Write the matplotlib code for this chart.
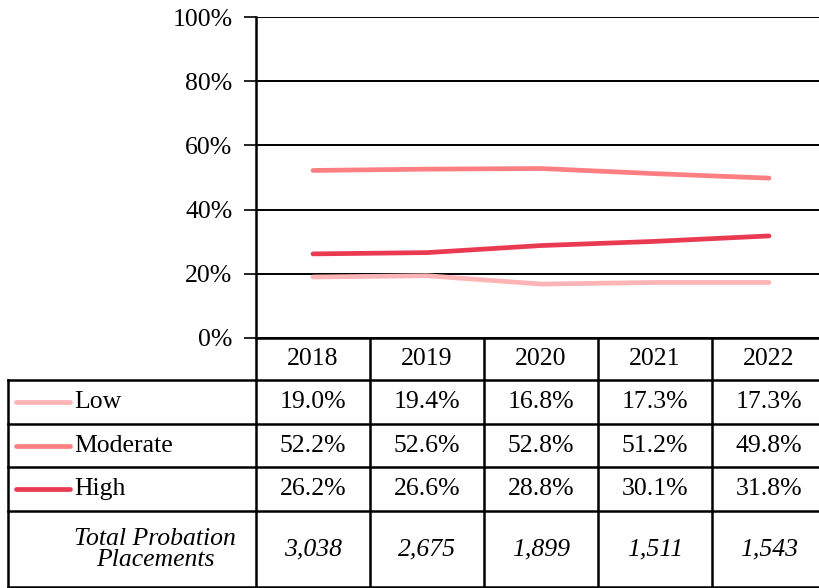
import matplotlib
matplotlib.use("Agg")
import matplotlib.pyplot as plt
from matplotlib.lines import Line2D

plt.rcParams['font.family'] = ['Liberation Serif', 'DejaVu Serif']

years = ['2018', '2019', '2020', '2021', '2022']
low = [19.0, 19.4, 16.8, 17.3, 17.3]
moderate = [52.2, 52.6, 52.8, 51.2, 49.8]
high = [26.2, 26.6, 28.8, 30.1, 31.8]
totals = ['3,038', '2,675', '1,899', '1,511', '1,543']

series = [
    ('Low', low, '#ffb4b6'),
    ('Moderate', moderate, '#fd7f82'),
    ('High', high, '#e93a52'),
]

FS = 18.5
W, H = 819, 588
fig = plt.figure(figsize=(W / 100, H / 100), dpi=100)

# pixel layout
ax_left, col_w = 256, 114
ax_top, ax_bot = 17, 338
row_edges = [338, 380, 424, 467, 511, 588]
label_left = 8

ax = fig.add_axes([ax_left / W, 1 - ax_bot / H,
                   col_w * len(years) / W, (ax_bot - ax_top) / H])
x = range(len(years))
for name, vals, col in series:
    ax.plot(x, vals, color=col, lw=3.4, solid_capstyle='round', zorder=3)

ax.set_xlim(-0.5, len(years) - 0.5)
ax.set_ylim(0, 100)
ax.set_yticks(range(0, 101, 20))
ax.set_yticklabels([f'{v}%' for v in range(0, 101, 20)], fontsize=FS)
ax.set_xticks([])
ax.tick_params(axis='y', length=9, width=1.2, pad=8)
ax.grid(axis='y', color='black', lw=1.4)
ax.set_axisbelow(True)
for s in ['top', 'right']:
    ax.spines[s].set_visible(False)
ax.spines['left'].set_linewidth(1.8)
ax.spines['bottom'].set_linewidth(1.8)

# table overlay in pixel coordinates
tb = fig.add_axes([0, 0, 1, 1])
tb.set_xlim(0, W)
tb.set_ylim(H, 0)
tb.axis('off')

lw = 1.8
right = ax_left + col_w * len(years)
for y in row_edges[1:-1]:
    tb.add_line(Line2D([label_left, right], [y, y], color='black', lw=lw))
tb.add_line(Line2D([label_left, right], [H - 1, H - 1], color='black', lw=lw))
tb.add_line(Line2D([label_left, label_left], [row_edges[1], H], color='black', lw=lw))
for i in range(len(years)):
    xx = ax_left + col_w * i
    tb.add_line(Line2D([xx, xx], [row_edges[0], H], color='black', lw=lw))

def centers(i):
    return (row_edges[i] + row_edges[i + 1]) / 2

for i, yr in enumerate(years):
    tb.text(ax_left + col_w * (i + 0.5), centers(0), yr, ha='center', va='center', fontsize=FS)

for r, (name, vals, col) in enumerate(series):
    yc = centers(r + 1)
    tb.add_line(Line2D([16, 70], [yc, yc], color=col, lw=3.4, solid_capstyle='round'))
    tb.text(74, yc, name, ha='left', va='center', fontsize=FS)
    for i, v in enumerate(vals):
        tb.text(ax_left + col_w * (i + 0.5), yc, f'{v:.1f}%', ha='center', va='center', fontsize=FS)

yc = centers(4)
tb.text(155, yc, 'Total Probation\nPlacements', ha='center', va='center',
        fontsize=FS, style='italic', linespacing=0.9)
for i, t in enumerate(totals):
    tb.text(ax_left + col_w * (i + 0.5), yc, t, ha='center', va='center',
            fontsize=FS, style='italic')

fig.savefig('out.png', dpi=100)
